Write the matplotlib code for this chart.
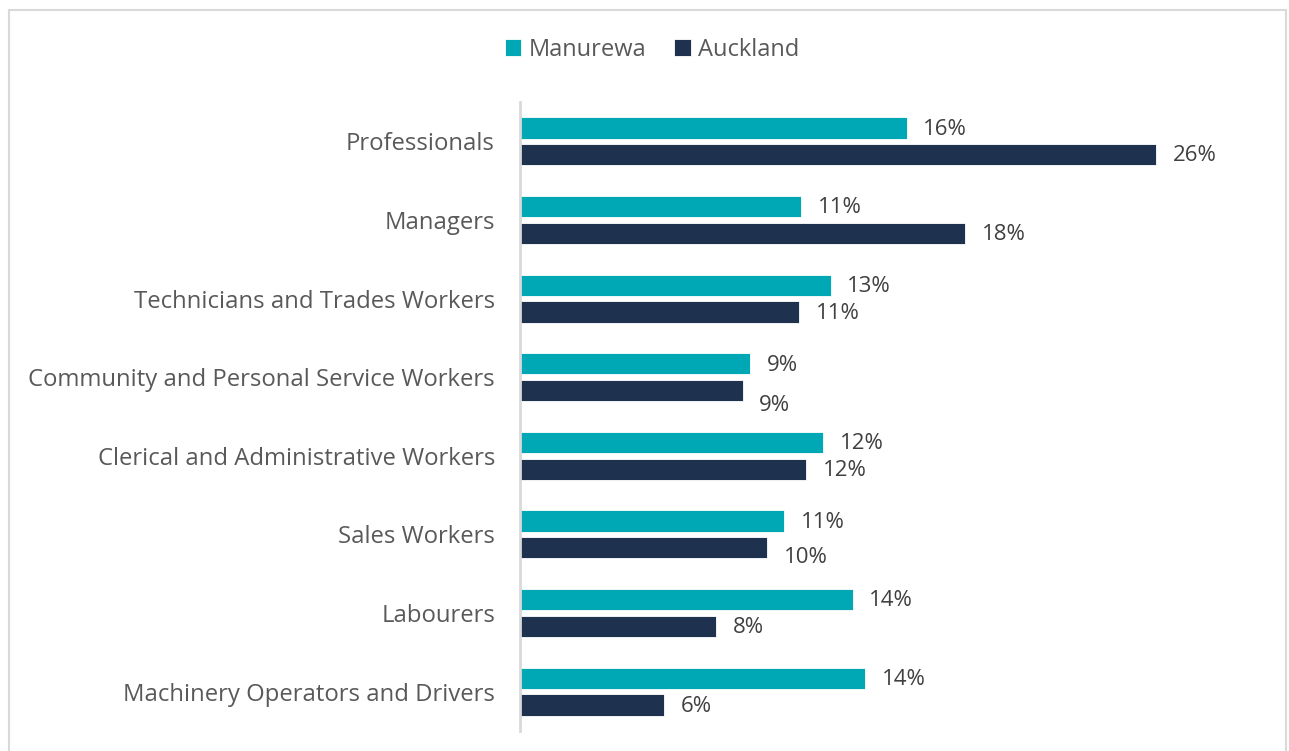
import matplotlib
matplotlib.use("Agg")
import matplotlib.pyplot as plt
import numpy as np
from matplotlib.patches import Rectangle

categories = ["Professionals", "Managers", "Technicians and Trades Workers",
              "Community and Personal Service Workers", "Clerical and Administrative Workers",
              "Sales Workers", "Labourers", "Machinery Operators and Drivers"]
manurewa = [15.8, 11.5, 12.7, 9.4, 12.4, 10.8, 13.6, 14.1]
auckland = [26.0, 18.2, 11.4, 9.1, 11.7, 10.1, 8.0, 5.9]
series_names = ["Manurewa", "Auckland"]

TEAL = "#00A7B5"
NAVY = "#1E3250"
plt.rcParams['font.family'] = ['Open Sans', 'DejaVu Sans']

W, H = 1289, 751
fig = plt.figure(figsize=(W/100, H/100), dpi=100)
ax = fig.add_axes([520/W, 1-731/H, (1254-520)/W, (731-102)/H])

y = np.arange(len(categories))
bh = 0.27
gap = 0.035
ax.barh(y - (bh/2 + gap), manurewa, height=bh, color=TEAL, edgecolor="white", linewidth=0.6, label=series_names[0])
ax.barh(y + (bh/2 + gap), auckland, height=bh, color=NAVY, edgecolor="white", linewidth=0.6, label=series_names[1])

label_dy = {3: 0.18, 5: 0.11}
for i in range(len(categories)):
    ax.annotate(f"{int(manurewa[i] + 0.49):.0f}%", (manurewa[i], y[i] - (bh/2 + gap) + 0.015), xytext=(12, 0),
                textcoords="offset points", va="center", ha="left", fontsize=16, color="#404040")
    ax.annotate(f"{int(auckland[i] + 0.5):.0f}%", (auckland[i], y[i] + (bh/2 + gap) + 0.015 + label_dy.get(i, 0)),
                xytext=(12, 0), textcoords="offset points", va="center", ha="left", fontsize=16, color="#404040")

ax.set_xlim(0, 30)
ax.set_ylim(len(categories) - 0.5, -0.5)
ax.set_yticks(y)
ax.set_yticklabels(categories, fontsize=17.2, color="#595959")
ax.tick_params(axis="y", length=0, pad=18)
ax.set_xticks([])
for s in ["top", "right", "bottom"]:
    ax.spines[s].set_visible(False)
ax.spines["left"].set_color("#D9D9D9")
ax.spines["left"].set_linewidth(2)

fig.legend(loc="center", bbox_to_anchor=(652/W, 1-50/H), ncol=2, frameon=False,
           fontsize=17, handlelength=0.7, handleheight=0.7, handletextpad=0.3,
           columnspacing=1.2, labelcolor="#595959")

fig.patches.append(Rectangle((9/W, -0.01), (1286-9)/W, 1-10/H + 0.01, transform=fig.transFigure,
                             fill=False, edgecolor="#D9D9D9", linewidth=1.5))

fig.savefig("out.png", dpi=100)
